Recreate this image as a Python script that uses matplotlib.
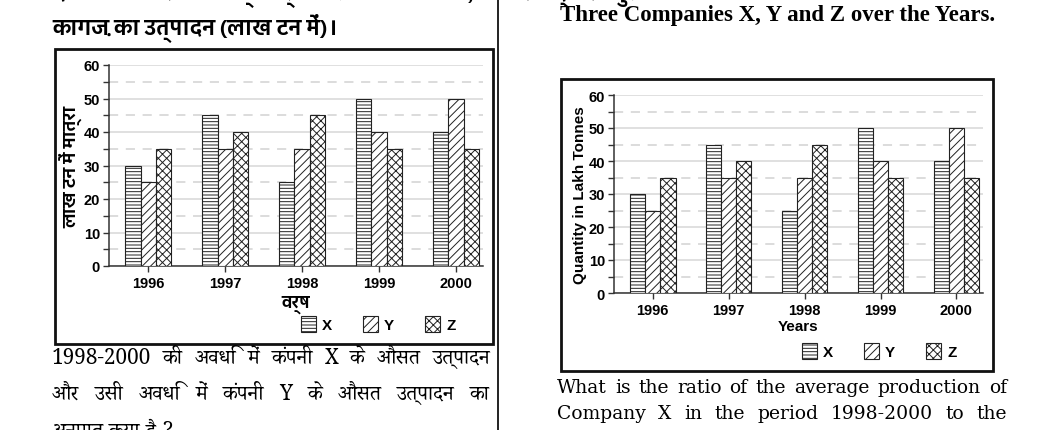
import matplotlib
matplotlib.use('Agg')
import matplotlib.pyplot as plt
from matplotlib import font_manager as fm
from matplotlib.ft2font import FT2Font
from matplotlib.patches import Rectangle, Patch
from matplotlib.lines import Line2D
from matplotlib.ticker import MultipleLocator

# dados do grafico
anos = ['1996', '1997', '1998', '1999', '2000']
prod_x = [30, 45, 25, 50, 40]
prod_y = [25, 35, 35, 40, 50]
prod_z = [35, 40, 45, 35, 35]
empresas = ['X', 'Y', 'Z']
hachuras = ['-----', '////', 'xxxx']

W, H = 1042, 431


def acha_fonte(ch):
    # procura uma fonte instalada que tenha o caractere
    achadas = []
    for f in fm.fontManager.ttflist:
        try:
            if ord(ch) in FT2Font(f.fname).get_charmap():
                achadas.append(f.name)
        except Exception:
            pass
    achadas = sorted(set(achadas), key=lambda n: ('Devanagari' not in n, 'Sans' not in n, n))
    return achadas


deva = acha_fonte('\u0915')
deva_sans = [deva[0]] if deva else []
deva_serif = [n for n in deva if 'Serif' in n][:1] or deva_sans

plt.rcParams['font.family'] = ['Liberation Sans', 'DejaVu Sans']
plt.rcParams['hatch.linewidth'] = 0.7
plt.rcParams['hatch.color'] = '#222222'

fig = plt.figure(figsize=(W / 100, H / 100), dpi=100)


def fx(px):
    return px / W


def fy(py):
    return 1 - py / H


def grafico(rect, ylabel, ylabel_fam, ylsize, ylpad, xlabel, xlabel_fam, xlsize, xlpad, leg_pos):
    ax = fig.add_axes(rect)
    pos = range(len(anos))
    larg = 0.2
    for i, (vals, h) in enumerate(zip([prod_x, prod_y, prod_z], hachuras)):
        ax.bar([p + (i - 1) * larg for p in pos], vals, width=larg, color='white',
               edgecolor='#222222', hatch=h, linewidth=0.8, zorder=3)
    ax.set_ylim(0, 60)
    ax.set_xlim(-0.51, 4.35)
    ax.yaxis.set_major_locator(MultipleLocator(10))
    ax.yaxis.set_minor_locator(MultipleLocator(5))
    ax.grid(which='major', axis='y', color='#dadada', linewidth=1.2, zorder=0)
    ax.grid(which='minor', axis='y', color='#d2d2d2', linewidth=1.1,
            linestyle=(0, (6, 5)), zorder=0)
    ax.set_xticks(list(pos))
    ax.set_xticklabels(anos, fontweight='bold', fontsize=10.5)
    for t in ax.get_yticklabels():
        t.set_fontweight('bold')
        t.set_fontsize(10.5)
    ax.tick_params(axis='y', which='both', length=4.5, width=1, color='#333333', pad=2)
    ax.tick_params(axis='x', length=4, width=1, color='#333333', pad=3.5)
    for s in ['top', 'right']:
        ax.spines[s].set_visible(False)
    for s in ['left', 'bottom']:
        ax.spines[s].set_color('#333333')
        ax.spines[s].set_linewidth(1.1)
    ax.set_ylabel(ylabel, fontsize=ylsize, fontweight='bold', family=ylabel_fam, labelpad=ylpad)
    ax.set_xlabel(xlabel, fontsize=xlsize, fontweight='bold', family=xlabel_fam, labelpad=xlpad)
    alcas = [Patch(facecolor='white', edgecolor='#222222', hatch=h, linewidth=0.8)
             for h in hachuras]
    ax.legend(alcas, empresas, loc='center', bbox_to_anchor=leg_pos,
              bbox_transform=fig.transFigure, ncol=3, frameon=False,
              handlelength=1.0, handleheight=1.3, handletextpad=0.4,
              columnspacing=2.0, prop={'weight': 'bold', 'size': 11})
    return ax


grafico([fx(109), fy(267), fx(483 - 109), (267 - 66) / H],
        'लाख टन में मात्रा', deva_sans + ['DejaVu Sans'], 12.5, 0,
        'वर्ष', deva_sans + ['DejaVu Sans'], 12, 3, (fx(378), fy(325)))
grafico([fx(614), fy(294), fx(983 - 614), (294 - 96) / H],
        'Quantity in Lakh Tonnes', ['Liberation Sans'], 11, 1,
        'Years', ['Liberation Sans'], 11, 1, (fx(879), fy(352)))

# molduras dos graficos e a linha que divide a pagina
fig.add_artist(Rectangle((fx(55), fy(345)), fx(493 - 55), (345 - 50) / H,
                         transform=fig.transFigure, fill=False, lw=2, ec='#111111'))
fig.add_artist(Rectangle((fx(561), fy(372)), fx(993 - 561), (372 - 80) / H,
                         transform=fig.transFigure, fill=False, lw=2, ec='#111111'))
fig.add_artist(Line2D([fx(498), fx(498)], [0, 1], transform=fig.transFigure,
                      color='#111111', lw=1.3))

# textos da pagina
rend = fig.canvas.get_renderer()


def linha(palavras, x0, x1, y, justifica=True, **kw):
    ts = [fig.text(0, fy(y), p, va='center', ha='left', **kw) for p in palavras]
    larg = [t.get_window_extent(rend).width for t in ts]
    esp = fig.text(0, 0, 'a a', **kw)
    sem = fig.text(0, 0, 'aa', **kw)
    espaco = esp.get_window_extent(rend).width - sem.get_window_extent(rend).width
    esp.remove()
    sem.remove()
    if justifica and len(ts) > 1:
        gap = (x1 - x0 - sum(larg)) / (len(ts) - 1)
    else:
        gap = espaco
    x = x0
    for t, w in zip(ts, larg):
        t.set_x(fx(x))
        x += w + gap


hin = deva_serif + ['Liberation Serif']
hin_b = deva_sans + ['DejaVu Sans']
eng = ['DejaVu Serif']

fig.text(fx(52), fy(-7), 'दिया गया आरेख विभिन्न वर्षों में तीन कंपनियों X, Y और Z द्वारा कुल',
         family=hin_b, fontweight='bold', fontsize=15, va='center')
fig.text(fx(52), fy(28), 'कागज़ का उत्पादन (लाख टन में)।', family=hin_b,
         fontweight='bold', fontsize=15, va='center')
fig.text(fx(560), fy(-12), 'Production of Paper (in Lakh Tonnes) by', family=['Liberation Serif'],
         fontweight='bold', fontsize=16.5, va='center')
fig.text(fx(778), fy(16), 'Three Companies X, Y and Z over the Years.', family=['Liberation Serif'],
         fontweight='bold', fontsize=16.5, va='center', ha='center')

linha('1998-2000 की अवधि में कंपनी X के औसत उत्पादन'.split(), 52, 490, 358,
      family=hin, fontsize=15)
linha('और उसी अवधि में कंपनी Y के औसत उत्पादन का'.split(), 52, 490, 394,
      family=hin, fontsize=15)
linha('अनुपात क्या है ?'.split(), 52, 490, 431, justifica=False,
      family=hin, fontsize=15)

linha('What is the ratio of the average production of'.split(), 557, 1007, 388,
      family=eng, fontsize=13.5)
linha('Company X in the period 1998-2000 to the'.split(), 557, 1007, 414,
      family=eng, fontsize=13.5)
linha('average production of Company Y in the same'.split(), 557, 1007, 440,
      family=eng, fontsize=13.5)

fig.savefig('out.png', dpi=100)
